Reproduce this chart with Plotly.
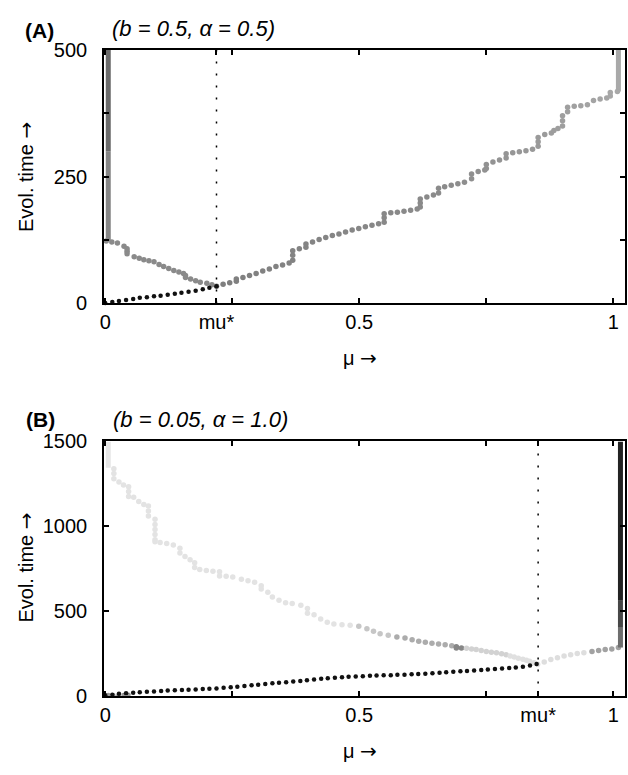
import plotly.graph_objects as go

# ---------------- DATA ----------------
MU_STAR_A = 0.219
MU_STAR_B = 0.852

XTICKS_A = [0, 0.219, 0.25, 0.5, 0.75, 1]
XTICKTEXT_A = ["0", "mu*", "", "0.5", "", "1"]
YTICKS_A = [0, 125, 250, 375, 500]
YTICKTEXT_A = ["0", "", "250", "", "500"]

XTICKS_B = [0, 0.25, 0.5, 0.75, 0.852, 1]
XTICKTEXT_B = ["0", "", "0.5", "", "mu*", "1"]
YTICKS_B = [0, 500, 1000, 1500]
YTICKTEXT_B = ["0", "500", "1000", "1500"]

# Panel A: black branch
A_BLACK_X = [0.000, 0.014, 0.027, 0.041, 0.055, 0.068, 0.082, 0.096, 0.109, 0.123,
             0.137, 0.150, 0.164, 0.178, 0.192, 0.205, 0.219]
A_BLACK_Y = [1, 3, 5, 7, 9, 11, 12, 14, 15, 17,
             19, 21, 23, 25, 28, 31, 34]

# Panel A: decreasing grey branch
A_DEC_X = [0.002, 0.013, 0.024, 0.037, 0.043, 0.043, 0.043, 0.057, 0.067, 0.076,
           0.086, 0.096, 0.106, 0.115, 0.125, 0.135, 0.145, 0.154, 0.158, 0.158,
           0.168, 0.178, 0.187, 0.200, 0.210]
A_DEC_Y = [123, 121, 119, 113, 108, 103, 98, 92, 89, 86,
           84, 82, 77, 73, 69, 65, 62, 59, 55, 51,
           48, 45, 42, 40, 37]

# Panel A: increasing grey branch
A_INC_X = [0.219, 0.232, 0.245, 0.258, 0.258, 0.271, 0.284, 0.297, 0.310, 0.323,
           0.336, 0.349, 0.362, 0.369, 0.369, 0.369, 0.382, 0.395, 0.395, 0.408,
           0.421, 0.434, 0.447, 0.460, 0.473, 0.486, 0.499, 0.512, 0.525, 0.538,
           0.549, 0.549, 0.549, 0.562, 0.575, 0.588, 0.601, 0.614, 0.620, 0.620,
           0.620, 0.633, 0.646, 0.656, 0.656, 0.668, 0.681, 0.694, 0.707, 0.721,
           0.721, 0.734, 0.747, 0.750, 0.750, 0.763, 0.776, 0.789, 0.789, 0.802,
           0.815, 0.828, 0.841, 0.852, 0.852, 0.852, 0.865, 0.878, 0.883, 0.891,
           0.900, 0.900, 0.900, 0.910, 0.910, 0.923, 0.936, 0.949, 0.961, 0.974,
           0.987, 0.994, 0.994, 1.008]
A_INC_Y = [34, 38, 41, 44, 48, 51, 55, 59, 64, 68,
           73, 76, 80, 85, 95, 104, 108, 111, 117, 121,
           126, 130, 134, 137, 141, 145, 148, 151, 154, 157,
           160, 169, 177, 179, 180, 182, 184, 186, 190, 198,
           206, 210, 214, 218, 227, 230, 233, 236, 239, 246,
           255, 260, 263, 266, 274, 279, 283, 287, 295, 297,
           299, 301, 304, 310, 319, 327, 333, 336, 341, 345,
           350, 360, 370, 378, 387, 389, 390, 392, 400, 403,
           405, 409, 416, 418]

# Panel A: vertical bars (stacked points) at the edges
A_BAR_LEFT_X = [0.006, 0.006, 0.006]
A_BAR_LEFT_Y = [123, 300, 500]
A_BAR_RIGHT_X = [1.010, 1.010]
A_BAR_RIGHT_Y = [418, 500]

# Panel B: black branch
B_BLACK_X = [0.000, 0.014, 0.027, 0.041, 0.055, 0.068, 0.082, 0.096, 0.110, 0.123,
             0.137, 0.151, 0.164, 0.178, 0.192, 0.205, 0.219, 0.233, 0.247, 0.260,
             0.274, 0.288, 0.301, 0.315, 0.329, 0.342, 0.356, 0.370, 0.384, 0.397,
             0.411, 0.425, 0.438, 0.452, 0.466, 0.479, 0.493, 0.507, 0.521, 0.534,
             0.548, 0.562, 0.575, 0.589, 0.603, 0.616, 0.630, 0.644, 0.658, 0.671,
             0.685, 0.699, 0.712, 0.726, 0.740, 0.753, 0.767, 0.781, 0.795, 0.808,
             0.822, 0.836, 0.849]
B_BLACK_Y = [1, 5, 10, 13, 16, 19, 22, 24, 26, 29,
             31, 33, 34, 36, 38, 40, 42, 45, 48, 52,
             56, 60, 64, 68, 72, 75, 78, 82, 86, 90,
             95, 99, 102, 105, 108, 110, 112, 114, 116, 118,
             119, 120, 122, 123, 125, 127, 129, 131, 134, 137,
             140, 143, 145, 148, 150, 153, 156, 159, 162, 165,
             170, 177, 186]

# Panel B: grey dots near the origin
B_LOW_X = [0.006, 0.016, 0.026, 0.036, 0.046]
B_LOW_Y = [3, 2, 2, 3, 4]

# Panel B: decreasing light branch
B_DEC_X = [0.017, 0.017, 0.017, 0.027, 0.036, 0.046, 0.046, 0.046, 0.056, 0.066,
           0.076, 0.085, 0.085, 0.085, 0.098, 0.098, 0.098, 0.098, 0.098, 0.098,
           0.108, 0.121, 0.134, 0.147, 0.147, 0.157, 0.167, 0.176, 0.176, 0.186,
           0.199, 0.212, 0.225, 0.225, 0.238, 0.251, 0.268, 0.281, 0.294, 0.307,
           0.307, 0.320, 0.329, 0.342, 0.355, 0.368, 0.385, 0.398, 0.398, 0.411,
           0.424, 0.437, 0.450, 0.466, 0.482, 0.499, 0.515, 0.528, 0.541, 0.557,
           0.574, 0.590, 0.604, 0.617, 0.630, 0.643, 0.656, 0.669, 0.682, 0.691,
           0.691, 0.701, 0.711, 0.721, 0.730, 0.740, 0.750, 0.760, 0.770, 0.780,
           0.789, 0.797, 0.805, 0.813, 0.822, 0.829, 0.835, 0.844, 0.851]
B_DEC_Y = [1338, 1310, 1280, 1261, 1242, 1233, 1204, 1175, 1170, 1146,
           1127, 1118, 1089, 1060, 1040, 1010, 980, 950, 920, 907,
           903, 897, 888, 870, 842, 821, 802, 784, 756, 744,
           738, 734, 731, 706, 704, 700, 687, 677, 668, 648,
           629, 610, 582, 562, 547, 543, 533, 514, 486, 476,
           451, 432, 422, 418, 415, 409, 394, 380, 365, 355,
           346, 340, 329, 320, 314, 309, 304, 299, 294, 288,
           281, 280, 279, 275, 271, 265, 260, 256, 252, 246,
           240, 233, 227, 220, 214, 208, 202, 193, 185]

# Panel B: increasing branch after mu*
B_INC_X = [0.864, 0.877, 0.890, 0.903, 0.916, 0.929, 0.942, 0.958, 0.971, 0.984, 0.997, 1.010]
B_INC_Y = [198, 212, 223, 233, 240, 248, 252, 260, 265, 271, 275, 284]

# Panel B: vertical bars
B_BAR_LEFT_X = [0.006, 0.006]
B_BAR_LEFT_Y = [1345, 1500]
B_BAR_RIGHT_X = [1.014, 1.014, 1.014, 1.014]
B_BAR_RIGHT_Y = [284, 400, 560, 1500]

# ---------------- STYLE ----------------
FONT = "Liberation Sans, Arial, Helvetica, sans-serif"
TICK_SIZE = 20
LABEL_SIZE = 22
ARROW = '<span style="font-family:DejaVu Sans">→</span>'

W, H = 628, 775
XRANGE = [-0.002, 1.023]
YRANGE_A = [0, 500]
YRANGE_B = [0, 1500]
DOM_X_PX = (100, 625)
DOM_A_PX = (40, 301)      # top, bottom
DOM_B_PX = (443, 704.5)


def seg_color_b_dec(x):
    if x < 0.49:
        return "#e3e3e3"
    if x < 0.56:
        return "#c6c6c6"
    if x < 0.685:
        return "#acacac"
    if x < 0.705:
        return "#868686"
    if x < 0.79:
        return "#d2d2d2"
    return "#e0e0e0"


def seg_color_b_inc(x):
    return "#dedede" if x < 0.95 else "#a2a2a2"


fig = go.Figure()


def dots(x, y, color, size, xa, ya):
    fig.add_trace(go.Scatter(x=x, y=y, mode="markers", xaxis=xa, yaxis=ya,
                             marker=dict(color=color, size=size, line=dict(width=0)),
                             cliponaxis=False, showlegend=False, hoverinfo="skip"))


def bar(x, y, colors, width, xa, ya):
    for i in range(len(x) - 1):
        fig.add_trace(go.Scatter(x=[x[i], x[i + 1]], y=[y[i], y[i + 1]], mode="lines",
                                 xaxis=xa, yaxis=ya, line=dict(color=colors[i], width=width),
                                 cliponaxis=False, showlegend=False, hoverinfo="skip"))


def vline(xv, ymax, xa, ya):
    fig.add_trace(go.Scatter(x=[xv, xv], y=[0, ymax], mode="lines", xaxis=xa, yaxis=ya,
                             line=dict(color="black", width=1.5, dash="2px,10px"),
                             showlegend=False, hoverinfo="skip"))


# Panel A
vline(MU_STAR_A, 500, "x", "y")
bar(A_BAR_LEFT_X, A_BAR_LEFT_Y, ["#858585", "#6a6a6a"], 5, "x", "y")
bar(A_BAR_RIGHT_X, A_BAR_RIGHT_Y, ["#a9a9a9"], 5, "x", "y")
dots(A_DEC_X, A_DEC_Y, "#8a8a8a", 5.5, "x", "y")
fig.add_trace(go.Scatter(x=A_INC_X, y=A_INC_Y, mode="markers", xaxis="x", yaxis="y",
                         marker=dict(color=A_INC_X, colorscale=[[0, "#7e7e7e"], [0.6, "#8c8c8c"], [1, "#a8a8a8"]],
                                     cmin=0.2, cmax=1.01, size=5.5, line=dict(width=0)),
                         cliponaxis=False, showlegend=False, hoverinfo="skip"))
dots(A_BLACK_X, A_BLACK_Y, "#111111", 4.5, "x", "y")

# Panel B
vline(MU_STAR_B, 1500, "x2", "y2")
bar(B_BAR_LEFT_X, B_BAR_LEFT_Y, ["#e6e6e6"], 5, "x2", "y2")
dots(B_DEC_X, B_DEC_Y, [seg_color_b_dec(v) for v in B_DEC_X], 5.5, "x2", "y2")
dots(B_INC_X, B_INC_Y, [seg_color_b_inc(v) for v in B_INC_X], 5.5, "x2", "y2")
dots(B_LOW_X, B_LOW_Y, "#9a9a9a", 4.5, "x2", "y2")
dots(B_BLACK_X, B_BLACK_Y, "#111111", 4.5, "x2", "y2")
bar(B_BAR_RIGHT_X, B_BAR_RIGHT_Y, ["#6e6e6e", "#474747", "#222222"], 5, "x2", "y2")


def px_x(p):
    return p / W


def px_y(p):
    return 1 - p / H


axis_common = dict(showline=True, linecolor="black", linewidth=2, mirror="allticks",
                   ticks="inside", ticklen=5, tickwidth=2, tickcolor="black",
                   showgrid=False, zeroline=False, layer="above traces",
                   tickfont=dict(family=FONT, size=TICK_SIZE, color="black"))

fig.update_layout(
    template="simple_white",
    width=W, height=H, autosize=False,
    margin=dict(l=0, r=0, t=0, b=0, pad=0),
    paper_bgcolor="white", plot_bgcolor="white",
    xaxis=dict(domain=[px_x(DOM_X_PX[0]), px_x(DOM_X_PX[1])], range=XRANGE, anchor="y",
               tickmode="array", tickvals=XTICKS_A, ticktext=XTICKTEXT_A, **axis_common),
    yaxis=dict(domain=[px_y(DOM_A_PX[1]), px_y(DOM_A_PX[0])], range=YRANGE_A, anchor="x",
               ticklabelstandoff=11,
               tickmode="array", tickvals=YTICKS_A, ticktext=YTICKTEXT_A, **axis_common),
    xaxis2=dict(domain=[px_x(DOM_X_PX[0]), px_x(DOM_X_PX[1])], range=XRANGE, anchor="y2",
                tickmode="array", tickvals=XTICKS_B, ticktext=XTICKTEXT_B, **axis_common),
    yaxis2=dict(domain=[px_y(DOM_B_PX[1]), px_y(DOM_B_PX[0])], range=YRANGE_B, anchor="x2",
                ticklabelstandoff=11,
                tickmode="array", tickvals=YTICKS_B, ticktext=YTICKTEXT_B, **axis_common),
)

ann = []


def label(text, xpx, ypx, size=LABEL_SIZE, angle=0):
    ann.append(dict(text=text, x=px_x(xpx), y=px_y(ypx), xref="paper", yref="paper",
                    showarrow=False, xanchor="center", yanchor="middle", textangle=angle,
                    font=dict(family=FONT, size=size, color="black")))


label("<b>(A)</b>", 35, 20, size=21)
label("<i>(b = 0.5, α = 0.5)</i>", 190, 18)
label("Evol. time " + ARROW, 21, 171, size=TICK_SIZE, angle=-90)
label("μ " + ARROW, 358, 357, size=TICK_SIZE)

label("<b>(B)</b>", 36, 420, size=21)
label("<i>(b = 0.05, α = 1.0)</i>", 197, 420)
label("Evol. time " + ARROW, 21, 573, size=TICK_SIZE, angle=-90)
label("μ " + ARROW, 358, 762, size=TICK_SIZE)

fig.update_layout(annotations=ann)

POST = "document.body.style.margin='0';document.body.style.padding='0';"

fig.write_html("out.html", post_script=POST, config={"displayModeBar": False, "staticPlot": True})
